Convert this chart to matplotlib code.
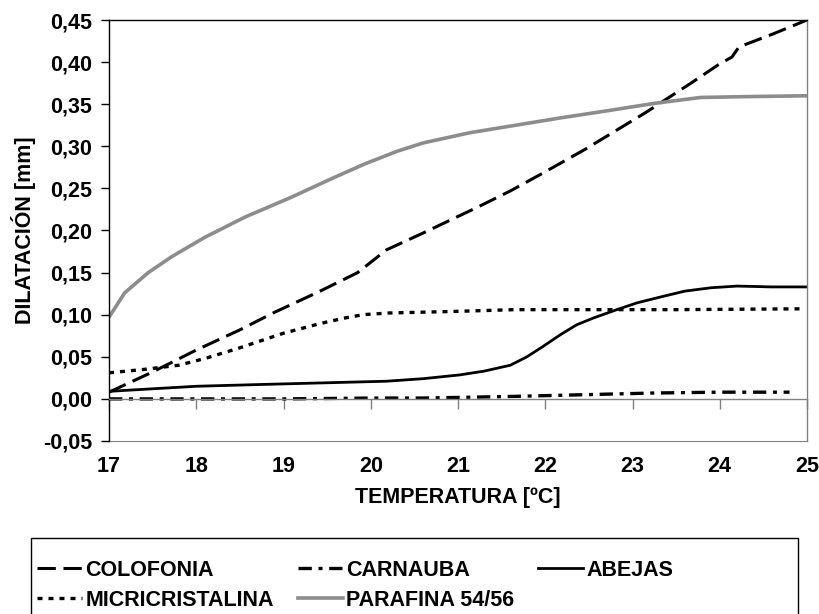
import numpy as np
import matplotlib.pyplot as plt
from matplotlib.patches import Rectangle

plt.rcParams['font.family'] = ['Liberation Sans', 'DejaVu Sans']
plt.rcParams['font.weight'] = 'bold'

# data
temp_colofonia = [17.0, 17.5, 18.0, 18.5, 18.9, 19.4, 19.85, 20.18, 20.6, 21.23, 21.6, 21.97, 22.45, 22.8, 23.15, 23.67, 24.0, 24.14, 24.22, 24.6, 25.0]
dil_colofonia = [0.008, 0.032, 0.058, 0.082, 0.103, 0.127, 0.150, 0.177, 0.197, 0.228, 0.247, 0.268, 0.296, 0.318, 0.340, 0.375, 0.398, 0.406, 0.418, 0.433, 0.450]

temp_carnauba = [17.0, 18.0, 19.0, 20.0, 20.6, 21.65, 22.45, 23.25, 24.0, 24.8]
dil_carnauba = [0.000, 0.000, 0.000, 0.001, 0.001, 0.003, 0.005, 0.007, 0.008, 0.008]

temp_abejas = [17.0, 17.5, 18.0, 18.7, 19.44, 20.18, 20.6, 21.02, 21.3, 21.6, 21.79, 21.97, 22.17, 22.36, 22.55, 22.82, 23.05, 23.32, 23.6, 23.9, 24.2, 24.6, 25.0]
dil_abejas = [0.009, 0.012, 0.015, 0.017, 0.019, 0.021, 0.024, 0.0285, 0.033, 0.040, 0.050, 0.062, 0.076, 0.088, 0.096, 0.106, 0.114, 0.121, 0.128, 0.132, 0.134, 0.133, 0.133]

temp_micro = [17.0, 17.4, 17.8, 18.1, 18.48, 19.0, 19.44, 19.7, 19.91, 20.2, 20.6, 21.0, 21.65, 22.5, 23.5, 24.95]
dil_micro = [0.031, 0.035, 0.040, 0.048, 0.060, 0.078, 0.090, 0.096, 0.100, 0.102, 0.103, 0.104, 0.106, 0.106, 0.106, 0.107]

temp_parafina = [17.0, 17.18, 17.45, 17.72, 18.1, 18.56, 19.1, 19.56, 19.93, 20.3, 20.6, 21.13, 21.6, 22.19, 22.7, 23.25, 23.78, 24.3, 25.0]
dil_parafina = [0.097, 0.126, 0.150, 0.169, 0.192, 0.216, 0.240, 0.262, 0.279, 0.294, 0.304, 0.316, 0.324, 0.334, 0.342, 0.351, 0.358, 0.359, 0.360]

y_ticks = np.arange(-0.05, 0.451, 0.05)
x_ticks = list(range(17, 26))

fs = 15.5

fig = plt.figure(figsize=(8.19, 6.14), dpi=100)
ax = fig.add_axes([109 / 819, 1 - 441 / 614, (807 - 109) / 819, (441 - 20) / 614])

l_col, = ax.plot(temp_colofonia, dil_colofonia, color='black', lw=2.2, linestyle=(0, (6, 2.5)), label='COLOFONIA')
l_car, = ax.plot(temp_carnauba, dil_carnauba, color='black', lw=2.4, linestyle=(0, (4, 2, 1.2, 2)), label='CARNAUBA')
l_abe, = ax.plot(temp_abejas, dil_abejas, color='black', lw=2, label='ABEJAS')
l_mic, = ax.plot(temp_micro, dil_micro, color='black', lw=2.4, linestyle=(0, (1.5, 1.8)), label='MICRICRISTALINA')
l_par, = ax.plot(temp_parafina, dil_parafina, color='#8c8c8c', lw=2.6, label='PARAFINA 54/56')

ax.set_xlim(17, 25)
ax.set_ylim(-0.05, 0.45)
ax.set_yticks(y_ticks)
ax.set_yticklabels([f'{v:.2f}'.replace('.', ',').replace('-0,00', '0,00') for v in y_ticks], fontsize=fs)
ax.tick_params(axis='y', direction='out', length=6, width=1, pad=6)

# x axis line sits at y=0, labels at the bottom
ax.spines['bottom'].set_position(('data', 0))
ax.spines['bottom'].set_color('#808080')
ax.set_xticks(x_ticks)
ax.tick_params(axis='x', direction='out', length=7, width=1, color='#808080', labelbottom=False)
ax.spines['right'].set_color('#808080')
ax.spines['top'].set_color('black')
ax.spines['left'].set_color('black')
for s in ax.spines.values():
    s.set_linewidth(1)

sec = ax.secondary_xaxis('bottom')
sec.set_xticks(x_ticks)
sec.set_xticklabels([str(t) for t in x_ticks], fontsize=fs)
sec.tick_params(length=0, pad=11)
sec.spines['bottom'].set_color('#808080')
sec.set_xlabel('TEMPERATURA [ºC]', fontsize=fs, fontweight='bold', labelpad=7)

ax.set_ylabel('DILATACIÓN [mm]', fontsize=fs, fontweight='bold', labelpad=5)

handles = [l_col, l_mic, l_car, l_par, l_abe]
leg = fig.legend(handles=handles, labels=[h.get_label() for h in handles], ncol=3,
                 loc='upper left', bbox_to_anchor=(37 / 819, 1 - 560 / 614),
                 fontsize=fs, frameon=False, handlelength=2.1, handletextpad=0.15,
                 borderpad=0, labelspacing=0.4, columnspacing=1.1, borderaxespad=0)

fig.patches.append(Rectangle((31 / 819, -0.01), (798 - 31) / 819, 1 - 538 / 614 + 0.01,
                             transform=fig.transFigure, fill=False, edgecolor='black', lw=1))

fig.savefig('out.png', dpi=100)
